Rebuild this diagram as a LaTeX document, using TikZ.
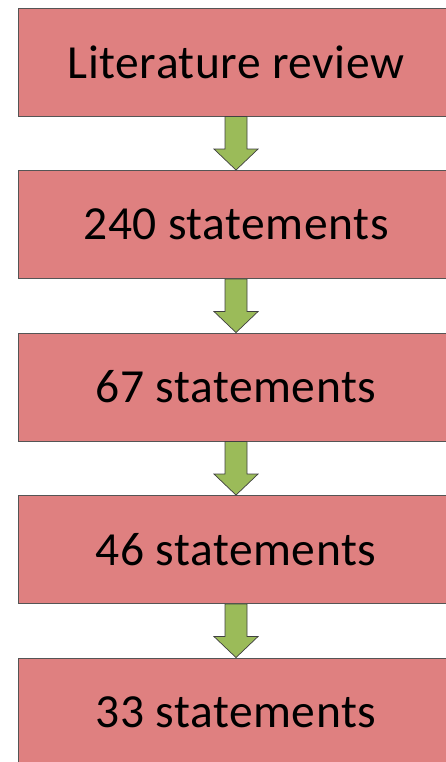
\documentclass[tikz,border=0pt]{standalone}
\usepackage{fontspec}
\setmainfont[LetterSpace=1.2]{Carlito}
\usepackage{xcolor}
\usepackage{tikz}
\usetikzlibrary{positioning, calc}
\definecolor{stagered}{RGB}{223,128,128}
\definecolor{stageline}{RGB}{85,85,85}
\definecolor{arrowgreen}{RGB}{155,187,89}
\tikzset{
    stage/.style={
        rectangle,
        draw=stageline,
        line width=0.9pt,
        fill=stagered,
        minimum width=435pt,
        minimum height=108pt,
        inner sep=0pt,
        font=\fontsize{47.5pt}{57pt}\selectfont,
    },
    flowarrow/.style={
        draw=black!75,
        line width=0.7pt,
        fill=arrowgreen,
        line join=miter,
    },
}

\begin{document}
\begin{tikzpicture}[node distance=162.5pt, on grid]
      \useasboundingbox (0,0) rectangle (446pt,-762pt);

      \node[stage] (lit) at (236pt,-62pt) {Literature review};

      \node[stage, below=of lit] (s240) {240 statements};

      \node[stage, below=of s240] (s67) {67 statements};

      \node[stage, below=of s67] (s46) {46 statements};

      \node[stage, below=of s46] (s33) {33 statements};

      \foreach \a/\b in {lit/s240, s240/s67, s67/s46, s46/s33}
        \draw[flowarrow] ($(\a.south)+(-11pt,0)$) -- ($(\b.north)+(-11pt,21pt)$)
          -- ($(\b.north)+(-22pt,21pt)$) -- (\b.north) -- ($(\b.north)+(22pt,21pt)$)
          -- ($(\b.north)+(11pt,21pt)$) -- ($(\a.south)+(11pt,0)$) -- cycle;

    \end{tikzpicture}
\end{document}
